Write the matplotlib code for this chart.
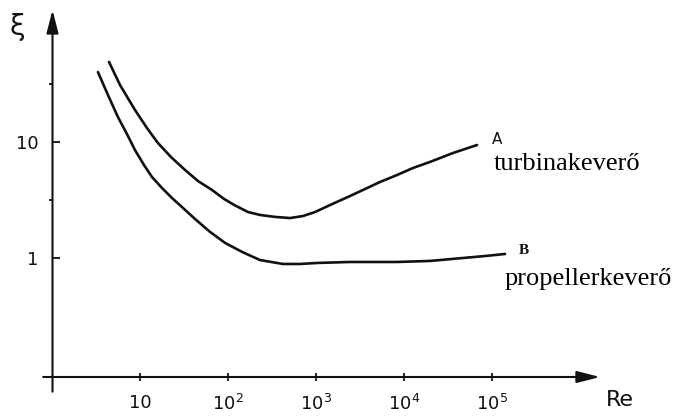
import matplotlib
matplotlib.use("Agg")
import matplotlib.pyplot as plt
from matplotlib.ticker import FixedLocator, NullLocator, NullFormatter

# values (log-log)
re_a = [4.45, 5.93, 8.77, 12.0, 16.0, 22.5, 32.5, 45.6, 65.8, 90.1, 120, 169, 231, 342,
        507, 711, 975, 1442, 2432, 3420, 5335, 8318, 12650, 19730, 36060, 67600]
xi_a = [49.0, 31.0, 18.9, 13.2, 9.8, 7.42, 5.74, 4.61, 3.86, 3.23, 2.84, 2.49, 2.35, 2.26,
        2.21, 2.30, 2.49, 2.86, 3.42, 3.86, 4.52, 5.19, 5.97, 6.73, 8.04, 9.42]

re_b = [3.33, 4.33, 5.62, 7.12, 8.77, 11.1, 13.7, 17.8, 23.1, 30.8, 42.2, 62.4, 92.5, 144,
        231, 422, 658, 1026, 2432, 8318, 19730, 46800, 83200, 140600]
xi_b = [40.1, 25.4, 16.4, 11.7, 8.53, 6.34, 4.99, 4.01, 3.29, 2.70, 2.17, 1.68, 1.35, 1.13,
        0.96, 0.888, 0.888, 0.906, 0.924, 0.924, 0.943, 1.0, 1.04, 1.083]

x_ticks = [10, 1e2, 1e3, 1e4, 1e5]
x_labels = ['10', r'$10^2$', r'$10^3$', r'$10^4$', r'$10^5$']
y_ticks = [1, 10]
y_labels = ['1', '10']

W, H = 679, 418
fig = plt.figure(figsize=(W / 100, H / 100), dpi=100)
# axes box in pixels: y axis at x=52.5, x axis at y=377, arrow tips at x=600 / y=10
left, right, top, bottom = 52.5, 600, 10, 377
ax = fig.add_axes([left / W, 1 - bottom / H, (right - left) / W, (bottom - top) / H])
ax.set_xscale('log')
ax.set_yscale('log')
ax.set_xlim(10 ** 0.006, 10 ** 6.227)
ax.set_ylim(10 ** -1.026, 10 ** 2.138)

ink = '#111111'
ax.plot(re_a, xi_a, color=ink, lw=1.9, solid_capstyle='round', solid_joinstyle='round')
ax.plot(re_b, xi_b, color=ink, lw=1.9, solid_capstyle='round', solid_joinstyle='round')

for s in ax.spines.values():
    s.set_visible(False)

# hand drawn axes with arrows
arrow = dict(arrowstyle='-|>,head_length=0.7,head_width=0.18', color=ink, lw=1.5,
             mutation_scale=20, shrinkA=0, shrinkB=0)
ax.annotate('', xy=(0, 1), xytext=(0, -0.04), xycoords='axes fraction',
            textcoords='axes fraction', arrowprops=arrow)
ax.annotate('', xy=(1, 0), xytext=(-0.017, 0), xycoords='axes fraction',
            textcoords='axes fraction', arrowprops=arrow)

ax.xaxis.set_major_locator(FixedLocator(x_ticks))
ax.set_xticklabels(x_labels)
ax.xaxis.set_minor_locator(NullLocator())
ax.yaxis.set_major_locator(FixedLocator(y_ticks))
ax.set_yticklabels(y_labels)
ax.yaxis.set_minor_locator(FixedLocator([10 ** 0.5, 10 ** 1.5]))
ax.yaxis.set_minor_formatter(NullFormatter())

ax.tick_params(axis='x', which='major', direction='inout', length=6, width=1.3,
               colors=ink, labelsize=13, pad=9)
ax.tick_params(axis='y', which='major', direction='in', length=5, width=1.3,
               colors=ink, labelsize=13, pad=10)
ax.tick_params(axis='y', which='minor', direction='out', length=3, width=1.3, colors=ink)

fig.text(17 / W, 1 - 27 / H, 'ξ', fontsize=20, ha='center', va='center', color=ink)
fig.text(620 / W, 1 - 400 / H, 'Re', fontsize=16, ha='center', va='center', color=ink)

fig.text(497 / W, 1 - 139 / H, 'A', fontsize=11, ha='center', va='center', color=ink)
fig.text(524 / W, 1 - 250 / H, 'B', fontsize=11, ha='center', va='center', color=ink,
         family='Liberation Serif', weight='bold')
fig.text(494 / W, 1 - 170 / H, 'turbinakeverő', fontsize=19, family='Liberation Serif',
         ha='left', va='baseline', color='black')
fig.text(505 / W, 1 - 285 / H, 'propellerkeverő', fontsize=19, family='Liberation Serif',
         ha='left', va='baseline', color='black')

fig.savefig('out.png', dpi=100, facecolor='white')
